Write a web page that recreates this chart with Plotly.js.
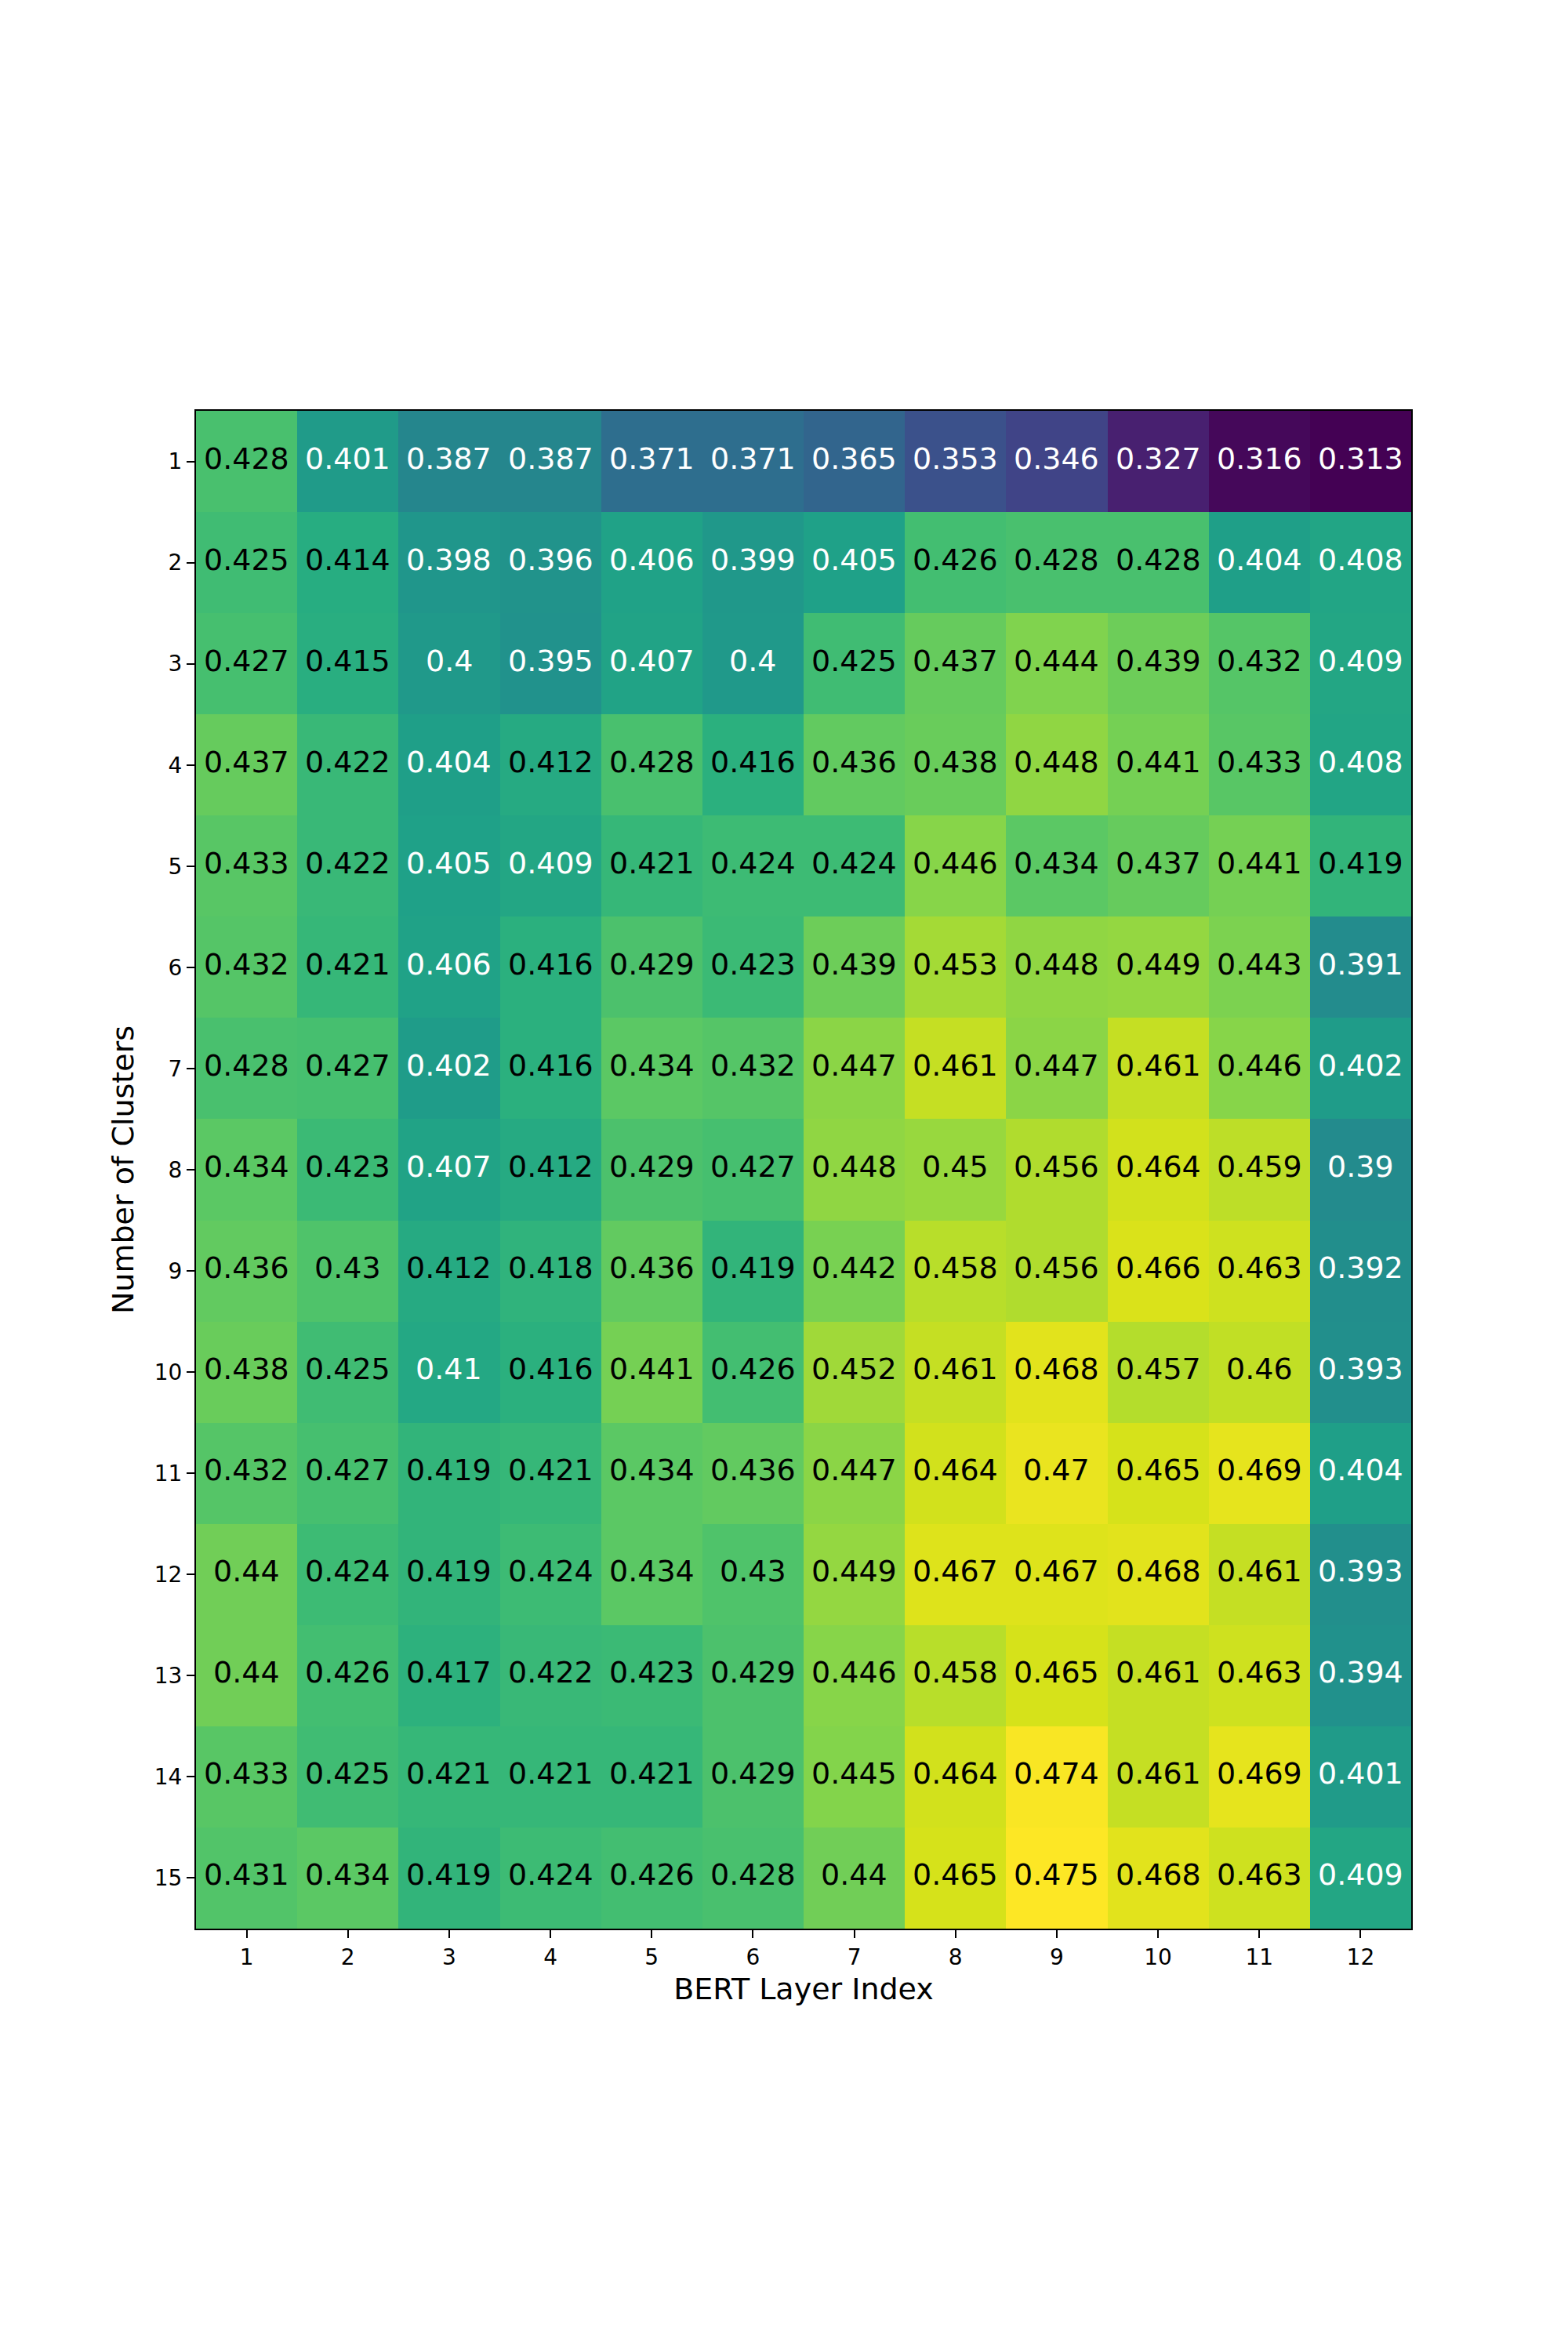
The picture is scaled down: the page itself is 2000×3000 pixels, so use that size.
<!DOCTYPE html>
<html>
<head>
<meta charset="utf-8">
<script src="https://cdn.plot.ly/plotly-3.0.1.min.js"></script>
<style>body{margin:0;background:#fff}</style>
</head>
<body>
<div id="myPlot" style="width:2000px;height:3000px"></div>
<script>
const layers = [1, 2, 3, 4, 5, 6, 7, 8, 9, 10, 11, 12];
const clusters = [1, 2, 3, 4, 5, 6, 7, 8, 9, 10, 11, 12, 13, 14, 15];

// one row per number of clusters, one column per BERT layer
const scores = [
  [0.428, 0.401, 0.387, 0.387, 0.371, 0.371, 0.365, 0.353, 0.346, 0.327, 0.316, 0.313],
  [0.425, 0.414, 0.398, 0.396, 0.406, 0.399, 0.405, 0.426, 0.428, 0.428, 0.404, 0.408],
  [0.427, 0.415, 0.4, 0.395, 0.407, 0.4, 0.425, 0.437, 0.444, 0.439, 0.432, 0.409],
  [0.437, 0.422, 0.404, 0.412, 0.428, 0.416, 0.436, 0.438, 0.448, 0.441, 0.433, 0.408],
  [0.433, 0.422, 0.405, 0.409, 0.421, 0.424, 0.424, 0.446, 0.434, 0.437, 0.441, 0.419],
  [0.432, 0.421, 0.406, 0.416, 0.429, 0.423, 0.439, 0.453, 0.448, 0.449, 0.443, 0.391],
  [0.428, 0.427, 0.402, 0.416, 0.434, 0.432, 0.447, 0.461, 0.447, 0.461, 0.446, 0.402],
  [0.434, 0.423, 0.407, 0.412, 0.429, 0.427, 0.448, 0.45, 0.456, 0.464, 0.459, 0.39],
  [0.436, 0.43, 0.412, 0.418, 0.436, 0.419, 0.442, 0.458, 0.456, 0.466, 0.463, 0.392],
  [0.438, 0.425, 0.41, 0.416, 0.441, 0.426, 0.452, 0.461, 0.468, 0.457, 0.46, 0.393],
  [0.432, 0.427, 0.419, 0.421, 0.434, 0.436, 0.447, 0.464, 0.47, 0.465, 0.469, 0.404],
  [0.44, 0.424, 0.419, 0.424, 0.434, 0.43, 0.449, 0.467, 0.467, 0.468, 0.461, 0.393],
  [0.44, 0.426, 0.417, 0.422, 0.423, 0.429, 0.446, 0.458, 0.465, 0.461, 0.463, 0.394],
  [0.433, 0.425, 0.421, 0.421, 0.421, 0.429, 0.445, 0.464, 0.474, 0.461, 0.469, 0.401],
  [0.431, 0.434, 0.419, 0.424, 0.426, 0.428, 0.44, 0.465, 0.475, 0.468, 0.463, 0.409]
];

const data = [{
  type: "heatmap",
  x: layers,
  y: clusters,
  z: scores,
  colorscale: "Viridis",
  showscale: false,
  hoverinfo: "skip"
}];

// cell labels, white on the darker cells
const annotations = [];
clusters.forEach(function (c, i) {
  layers.forEach(function (l, j) {
    const v = scores[i][j];
    annotations.push({
      x: l, y: c, xref: "x", yref: "y",
      text: String(v),
      showarrow: false,
      yshift: 4,
      font: {family: "DejaVu Sans", size: 38, color: v < 0.411 ? "white" : "black"}
    });
  });
});

const axisStyle = {
  showgrid: false,
  zeroline: false,
  showline: true,
  mirror: true,
  linecolor: "black",
  linewidth: 2,
  ticks: "outside",
  ticklen: 10,
  tickwidth: 2,
  tickcolor: "black",
  tickfont: {family: "DejaVu Sans", size: 28, color: "black"}
};

const layout = {
  width: 2000,
  height: 3000,
  margin: {l: 250, r: 200, t: 524, b: 540},
  paper_bgcolor: "white",
  plot_bgcolor: "white",
  font: {family: "DejaVu Sans", color: "black"},
  xaxis: Object.assign({}, axisStyle, {
    range: [0.5, 12.5],
    tickvals: layers,
    ticktext: layers.map(String),
    title: {text: "BERT Layer Index", font: {family: "DejaVu Sans", size: 38}, standoff: 12}
  }),
  yaxis: Object.assign({}, axisStyle, {
    range: [15.5, 0.5],
    tickvals: clusters,
    ticktext: clusters.map(String),
    title: {text: "Number of Clusters", font: {family: "DejaVu Sans", size: 38}, standoff: 14}
  }),
  annotations: annotations
};

Plotly.newPlot("myPlot", data, layout, {staticPlot: true});
</script>
</body>
</html>
